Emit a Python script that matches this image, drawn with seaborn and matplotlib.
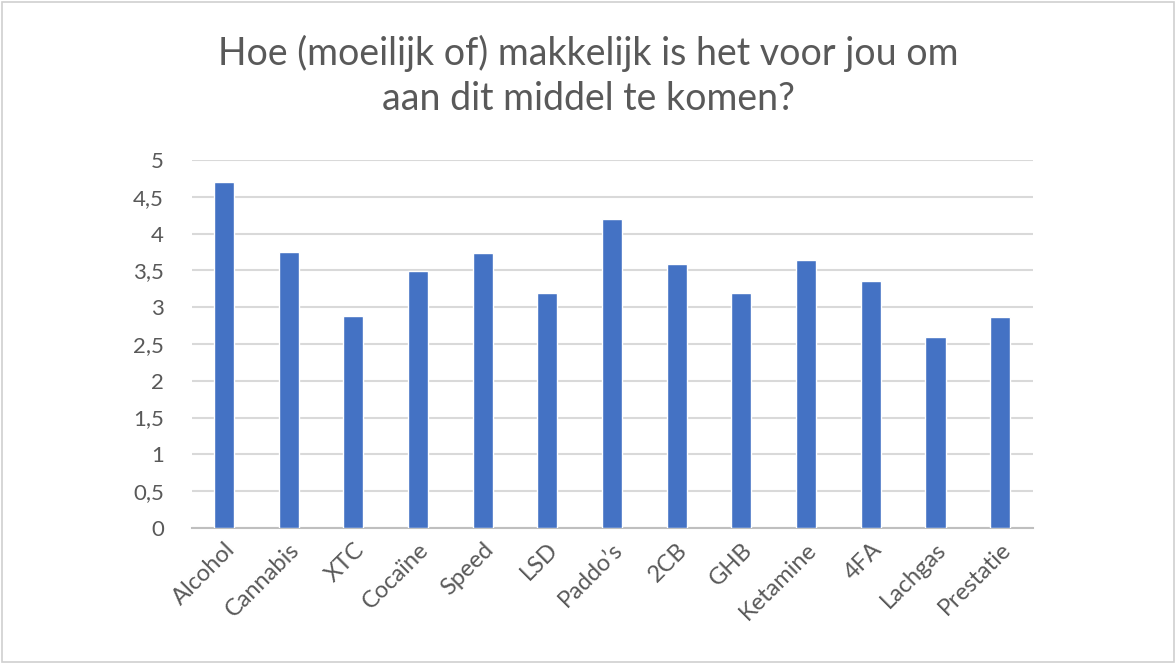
import matplotlib
matplotlib.use("Agg")
import matplotlib.pyplot as plt
import seaborn as sns
import pandas as pd
from matplotlib.ticker import FuncFormatter
from matplotlib.patches import Rectangle

# Data
middelen = ['Alcohol', 'Cannabis', 'XTC', 'Cocaïne', 'Speed', 'LSD', 'Paddo’s',
            '2CB', 'GHB', 'Ketamine', '4FA', 'Lachgas', 'Prestatie']
scores = [4.70, 3.75, 2.88, 3.49, 3.73, 3.19, 4.20, 3.58, 3.19, 3.64, 3.35, 2.59, 2.86]

df = pd.DataFrame({'middel': middelen, 'score': scores})

sns.set_style('white')
plt.rcParams['font.family'] = ['Lato', 'DejaVu Sans']
grey = '#595959'

fig = plt.figure(figsize=(11.76, 6.64), dpi=100)
ax = fig.add_axes([0.163, 0.205, 0.715, 0.554])

sns.barplot(data=df, x='middel', y='score', color='#4472C4', width=0.31,
            saturation=1, ax=ax, zorder=3)

ax.set_ylim(0, 5)
ax.set_yticks([i * 0.5 for i in range(11)])
ax.yaxis.set_major_formatter(FuncFormatter(lambda v, p: f'{v:g}'.replace('.', ',')))
ax.grid(axis='y', color='#d9d9d9', linewidth=1.5, zorder=0)
ax.set_axisbelow(True)
for s in ['top', 'right', 'left']:
    ax.spines[s].set_visible(False)
ax.spines['bottom'].set_color('#bfbfbf')
ax.spines['bottom'].set_linewidth(1.5)
ax.tick_params(axis='both', length=0, colors=grey)
ax.tick_params(axis='y', pad=20, labelsize=16)
ax.tick_params(axis='x', pad=8, labelsize=17)
ax.set_xlabel('')
ax.set_ylabel('')
plt.setp(ax.get_xticklabels(), rotation=45, ha='right', rotation_mode='anchor')

fig.text(0.5, 0.886, 'Hoe (moeilijk of) makkelijk is het voor jou om\naan dit middel te komen?',
         ha='center', va='center', fontsize=27, color=grey, linespacing=1.3)

fig.patches.append(Rectangle((0.002, 0.003), 0.996, 0.994, transform=fig.transFigure,
                             fill=False, edgecolor='#d0d0d0', linewidth=1.2))

fig.savefig('out.png', dpi=100)
